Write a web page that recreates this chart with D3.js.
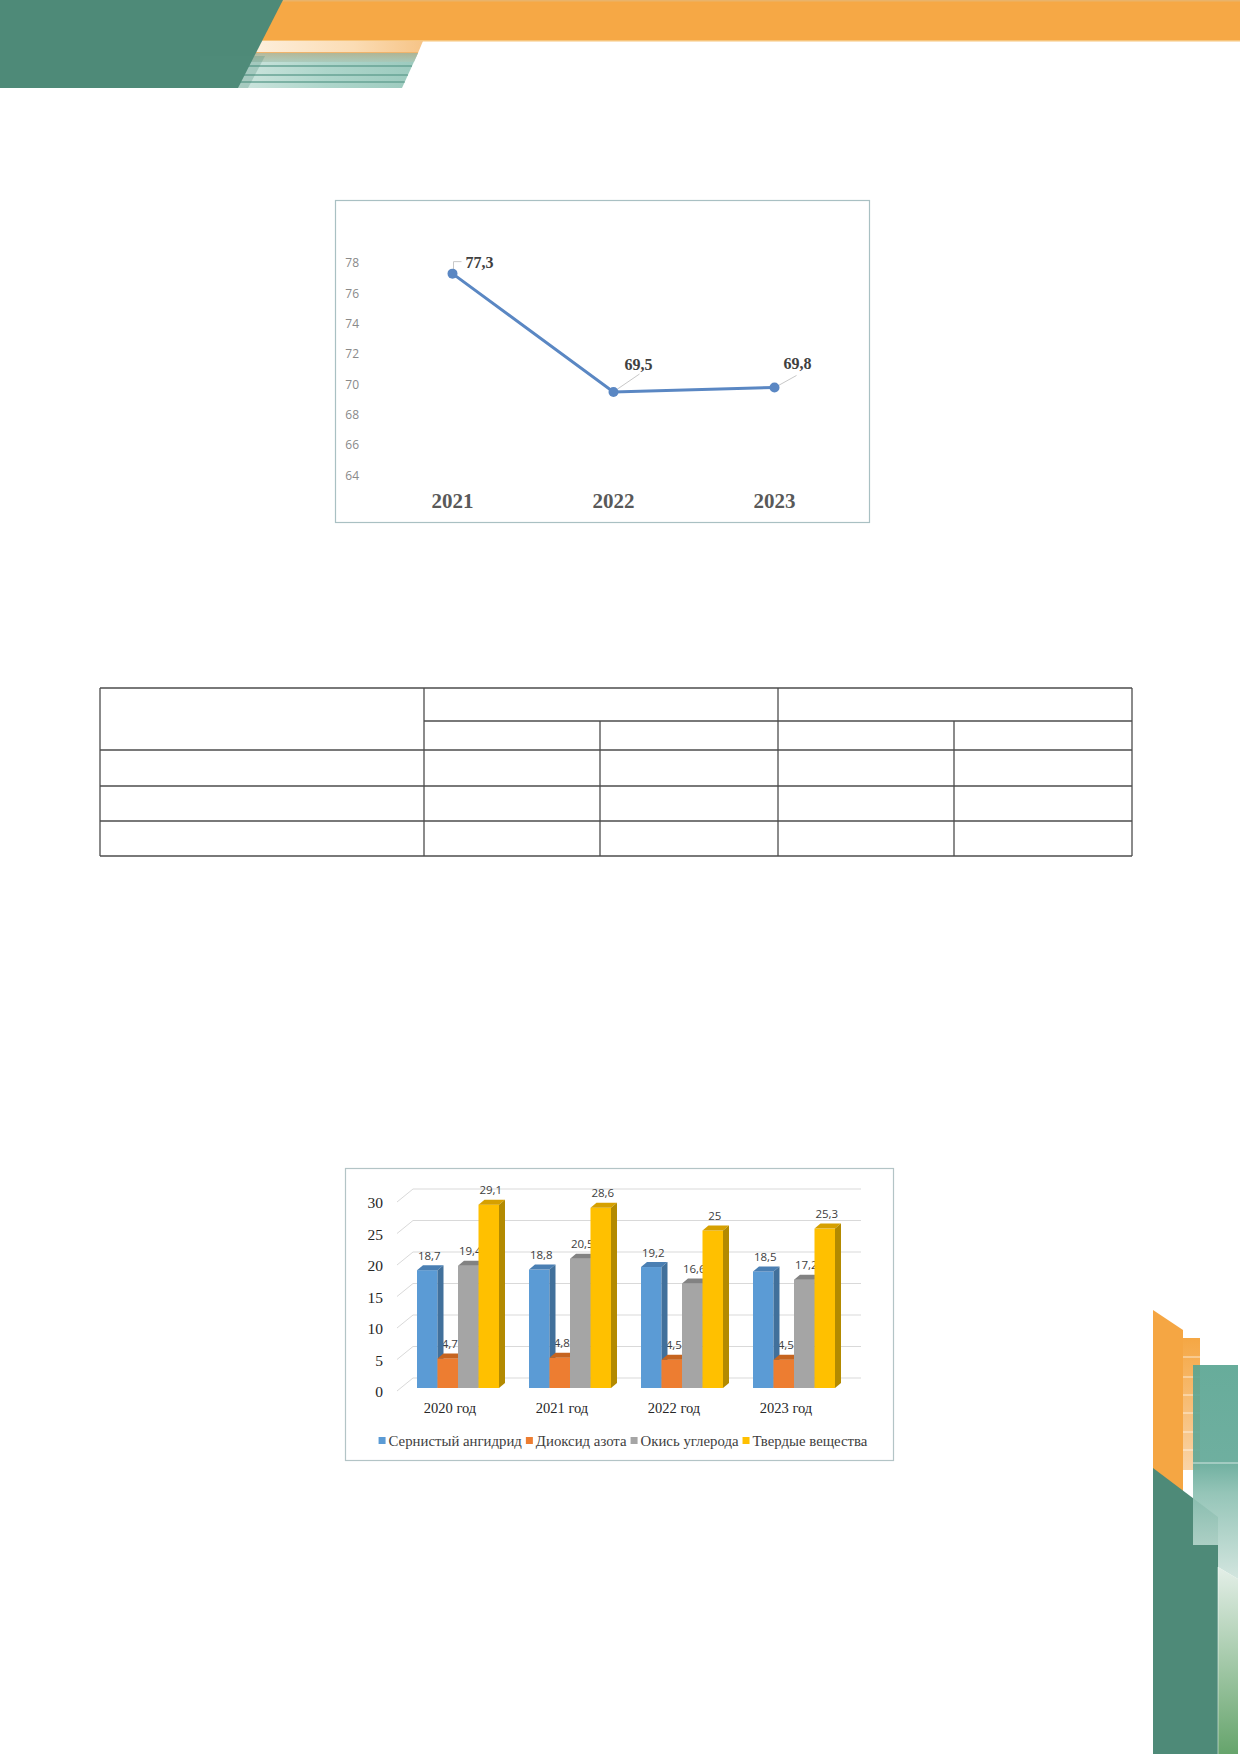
<!DOCTYPE html>
<html>
<head>
<meta charset="utf-8">
<script src="https://cdn.jsdelivr.net/npm/d3@7"></script>
<style>
  html, body { margin: 0; padding: 0; background: #fff; }
  svg { display: block; }
</style>
</head>
<body>
<script>
// ---- data ----
let lineYears = ["2021", "2022", "2023"];
let lineValues = [77.3, 69.5, 69.8];
let lineTicks = [64, 66, 68, 70, 72, 74, 76, 78];

let barCategories = ["2020 год", "2021 год", "2022 год", "2023 год"];
let barSeries = ["Сернистый ангидрид", "Диоксид азота", "Окись углерода", "Твердые вещества"];
let sulfurValues = [18.7, 18.8, 19.2, 18.5];
let nitrogenValues = [4.7, 4.8, 4.5, 4.5];
let carbonValues = [19.4, 20.5, 16.6, 17.2];
let solidsValues = [29.1, 28.6, 25, 25.3];
let barTicks = [0, 5, 10, 15, 20, 25, 30];

let seriesValues = [sulfurValues, nitrogenValues, carbonValues, solidsValues];
let seriesFront = ["#5b9bd5", "#ed7d31", "#a5a5a5", "#ffc000"];
let seriesTop = ["#4a7fb3", "#c6641f", "#828282", "#d6a000"];
let seriesSide = ["#41709b", "#ad5a21", "#787878", "#b38a00"];

let fmt = v => String(v).replace(".", ",");

let svg = d3.select("body").append("svg")
    .attr("width", 1240).attr("height", 1754);

let defs = svg.append("defs");
function gradient(id, x2, y2, stops)
{
    let g = defs.append("linearGradient").attr("id", id)
        .attr("x1", 0).attr("y1", 0).attr("x2", x2).attr("y2", y2);
    stops.forEach(s => g.append("stop").attr("offset", s[0]).attr("stop-color", s[1]));
}
gradient("peach", 1, 0, [[0, "#fdf0de"], [0.6, "#fbdcb4"], [1, "#f6c487"]]);
gradient("teal", 1, 0, [[0, "#cfe6df"], [0.5, "#aed6cb"], [1, "#9ccabe"]]);
gradient("tealTop", 0, 1, [[0, "#b2ae8a"], [1, "#a9c8b8"]]);
gradient("orangeCol", 0, 1, [[0, "#f5a744"], [1, "#f9d4a8"]]);
gradient("tealCol", 0, 1, [[0, "#5aa592"], [0.45, "#62a897"], [0.6, "#8cc0b2"], [1, "#cfe3dc"]]);
gradient("greenCol", 0, 1, [[0, "#e4efe8"], [1, "#66a46c"]]);

// ---- header decoration ----
let head = svg.append("g");
head.append("rect").attr("x", 200).attr("y", 0).attr("width", 1040).attr("height", 41).attr("fill", "#f6a845");
head.append("rect").attr("x", 200).attr("y", 0).attr("width", 1040).attr("height", 1.5).attr("fill", "#e9b36a");
head.append("rect").attr("x", 200).attr("y", 40).attr("width", 1040).attr("height", 1.5).attr("fill", "#f7c57c");
head.append("polygon").attr("points", "255,41 423,41 418,53 250,53").attr("fill", "url(#peach)");
head.append("line").attr("x1", 250).attr("x2", 418).attr("y1", 52.5).attr("y2", 52.5).attr("stroke", "#efb46c").attr("stroke-width", 1.2);
head.append("polygon").attr("points", "250,53 418,53 402,88 232,88").attr("fill", "url(#teal)");
head.append("polygon").attr("points", "250,53 418,53 414,62 246,62").attr("fill", "url(#tealTop)").attr("opacity", 0.8);
[66, 75, 82].forEach(y => {
    head.append("line").attr("x1", 200).attr("x2", 418 - (y - 53) * 0.46).attr("y1", y).attr("y2", y)
        .attr("stroke", "#67a394").attr("stroke-width", 1.4);
});
head.append("polygon").attr("points", "0,0 283,0 238,88 0,88").attr("fill", "#4e8a78");
head.append("polygon").attr("points", "200,56 265,56 248,88 200,88").attr("fill", "#548f7e").attr("opacity", 0.3);

// ---- right bottom decoration ----
let deco = svg.append("g");
deco.append("polygon").attr("points", "1153,1310 1183,1330 1183,1492 1153,1492").attr("fill", "#f5a643");
deco.append("rect").attr("x", 1183).attr("y", 1338).attr("width", 17).attr("height", 132).attr("fill", "url(#orangeCol)");
[1357, 1377, 1395, 1413, 1432, 1450].forEach(y => {
    deco.append("line").attr("x1", 1183).attr("x2", 1200).attr("y1", y).attr("y2", y).attr("stroke", "#fff").attr("stroke-opacity", 0.7);
});
deco.append("polygon").attr("points", "1153,1468 1218,1517 1218,1754 1153,1754").attr("fill", "#4e8a78");
deco.append("polygon").attr("points", "1193,1365 1238,1365 1238,1579 1218,1567 1218,1545 1193,1545")
    .attr("fill", "url(#tealCol)").attr("opacity", 0.92);
deco.append("line").attr("x1", 1193).attr("x2", 1238).attr("y1", 1463).attr("y2", 1463).attr("stroke", "#fff").attr("stroke-opacity", 0.7);
deco.append("polygon").attr("points", "1218,1567 1238,1579 1238,1754 1218,1754").attr("fill", "url(#greenCol)");
deco.append("line").attr("x1", 1218).attr("x2", 1218).attr("y1", 1567).attr("y2", 1754).attr("stroke", "#fff").attr("stroke-opacity", 0.5);

// ---- line chart ----
let lc = svg.append("g");
lc.append("rect").attr("x", 335.5).attr("y", 200.5).attr("width", 534).attr("height", 322)
    .attr("fill", "#fff").attr("stroke", "#a9c0c3").attr("stroke-width", 1.2);

let lx = d3.scalePoint().domain(lineYears).range([372, 855]).padding(0.5);
let ly = d3.scaleLinear().domain([64, 78]).range([475.5, 263]);

lc.selectAll(".ytick").data(lineTicks).enter().append("text")
    .attr("x", 359).attr("y", d => ly(d)).attr("dy", "0.35em")
    .attr("text-anchor", "end")
    .attr("font-family", "Open Sans, Liberation Sans, Arial, sans-serif").attr("font-size", 12)
    .attr("fill", "#8a8a8a").text(d => d);

lc.selectAll(".xlab").data(lineYears).enter().append("text")
    .attr("x", d => lx(d)).attr("y", 508)
    .attr("text-anchor", "middle")
    .attr("font-family", "Liberation Serif, Times New Roman, serif").attr("font-size", 21)
    .attr("font-weight", "bold").attr("fill", "#595959").text(d => d);

let pts = lineYears.map((y, i) => ({year: y, value: lineValues[i], i: i}));

// leader lines
let leader = [
    d => `M${lx(d.year) + 1},${ly(d.value) - 4} V${ly(d.value) - 12} H${lx(d.year) + 9}`,
    d => `M${lx(d.year) + 4},${ly(d.value) - 3} L${lx(d.year) + 26},${ly(d.value) - 18}`,
    d => `M${lx(d.year) + 4},${ly(d.value) - 2} L${lx(d.year) + 22},${ly(d.value) - 12}`
];
lc.selectAll(".leader").data(pts).enter().append("path")
    .attr("d", d => leader[d.i](d)).attr("fill", "none")
    .attr("stroke", "#c8c8c8").attr("stroke-width", 1);

lc.append("path").datum(pts)
    .attr("d", d3.line().x(d => lx(d.year)).y(d => ly(d.value)))
    .attr("fill", "none").attr("stroke", "#5a87c3").attr("stroke-width", 3);
lc.selectAll(".pt").data(pts).enter().append("circle")
    .attr("cx", d => lx(d.year)).attr("cy", d => ly(d.value)).attr("r", 5)
    .attr("fill", "#5a87c3");

let labelOff = [[13, -6], [11, -22], [9, -18]];
lc.selectAll(".vlab").data(pts).enter().append("text")
    .attr("x", d => lx(d.year) + labelOff[d.i][0])
    .attr("y", d => ly(d.value) + labelOff[d.i][1])
    .attr("font-family", "Liberation Serif, Times New Roman, serif").attr("font-size", 16)
    .attr("font-weight", "bold").attr("fill", "#404040").text(d => fmt(d.value));

// ---- table ----
let tbl = svg.append("g").attr("stroke", "#4d4d4d").attr("stroke-width", 1.3);
let colX = [100, 424, 600, 778, 954, 1132];
let rowY = [688, 721, 750, 786, 821, 856];
rowY.forEach((y, i) => {
    tbl.append("line").attr("x1", i == 1 ? colX[1] : colX[0]).attr("x2", colX[5]).attr("y1", y).attr("y2", y);
});
colX.forEach((x, i) => {
    let top = (i == 2 || i == 4) ? rowY[1] : rowY[0];
    tbl.append("line").attr("x1", x).attr("x2", x).attr("y1", top).attr("y2", rowY[5]);
});

// ---- 3D bar chart ----
let bc = svg.append("g");
bc.append("rect").attr("x", 345.5).attr("y", 1168.5).attr("width", 548).attr("height", 292)
    .attr("fill", "#fff").attr("stroke", "#b3c4c6").attr("stroke-width", 1.2);

let depthX = 16, depthY = 13;     // floor depth
let barDx = 6, barDy = 5;         // bar depth
let x0 = d3.scaleBand().domain(barCategories).range([397, 845]).paddingInner(0).paddingOuter(0);
let x1 = d3.scaleBand().domain(barSeries).range([0, 82]);
let yF = d3.scaleLinear().domain([0, 30]).range([1388, 1199]);
let yB = v => yF(v) - 10;
let backLeft = 397 + depthX, backRight = 861;

bc.selectAll(".grid").data(barTicks).enter().append("path")
    .attr("d", d => `M397,${yB(d) + depthY} L${backLeft},${yB(d)} H${backRight}`)
    .attr("fill", "none").attr("stroke", "#d9d9d9").attr("stroke-width", 1);

bc.selectAll(".ytick").data(barTicks).enter().append("text")
    .attr("x", 383).attr("y", d => yB(d) + depthY + 1).attr("dy", "0.35em")
    .attr("text-anchor", "end")
    .attr("font-family", "Liberation Serif, Times New Roman, serif").attr("font-size", 15.5)
    .attr("fill", "#262626").text(d => d);

bc.selectAll(".xlab").data(barCategories).enter().append("text")
    .attr("x", d => x0(d) + x0.bandwidth() / 2 - 3).attr("y", 1413)
    .attr("text-anchor", "middle")
    .attr("font-family", "Liberation Serif, Times New Roman, serif").attr("font-size", 14.5)
    .attr("fill", "#262626").text(d => d);

let bars = [];
barCategories.forEach((c, ci) => {
    barSeries.forEach((s, si) => {
        bars.push({cat: c, series: s, si: si, value: seriesValues[si][ci],
                   x: x0(c) + 20 + x1(s), w: x1.bandwidth()});
    });
});

// value labels first, bars are drawn over them
bc.selectAll(".blab").data(bars).enter().append("text")
    .attr("x", d => d.x + d.w / 2 + 2).attr("y", d => yF(d.value) - 10.5)
    .attr("text-anchor", "middle")
    .attr("font-family", "Open Sans, Liberation Sans, Arial, sans-serif").attr("font-size", 11.5)
    .attr("fill", "#404040").text(d => fmt(d.value));

let bar = bc.selectAll(".bar").data(bars).enter().append("g");
bar.append("rect")
    .attr("x", d => d.x).attr("y", d => yF(d.value))
    .attr("width", d => d.w).attr("height", d => yF(0) - yF(d.value))
    .attr("fill", d => seriesFront[d.si]);
bar.append("polygon")
    .attr("points", d => {
        let t = yF(d.value);
        return [[d.x, t], [d.x + d.w, t], [d.x + d.w + barDx, t - barDy], [d.x + barDx, t - barDy]].join(" ");
    })
    .attr("fill", d => seriesTop[d.si]);
bar.append("polygon")
    .attr("points", d => {
        let t = yF(d.value), b = yF(0), r = d.x + d.w;
        return [[r, t], [r + barDx, t - barDy], [r + barDx, b - barDy], [r, b]].join(" ");
    })
    .attr("fill", d => seriesSide[d.si]);

// legend
let legend = bc.append("g");
let lxPos = 0;
barSeries.forEach((s, i) => {
    let item = legend.append("g").attr("transform", `translate(${lxPos},0)`);
    item.append("rect").attr("x", 0).attr("y", -4).attr("width", 7).attr("height", 7).attr("fill", seriesFront[i]);
    let t = item.append("text").attr("x", 10).attr("y", 0).attr("dy", "0.35em")
        .attr("font-family", "Liberation Serif, Times New Roman, serif").attr("font-size", 14.8)
        .attr("fill", "#404040").text(s);
    lxPos += 10 + t.node().getComputedTextLength() + 4;
});
legend.attr("transform", `translate(${623 - (lxPos - 4) / 2},1441)`);
</script>
</body>
</html>
